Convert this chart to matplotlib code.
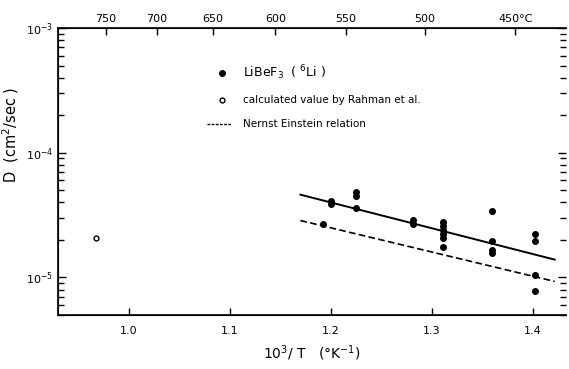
import numpy as np
import matplotlib.pyplot as plt
import matplotlib.ticker as ticker

# measured points, LiBeF3 (6Li)
x_meas = [1.192, 1.2007, 1.2007, 1.2248, 1.2248, 1.2248, 1.2815, 1.2815,
          1.311, 1.311, 1.311, 1.311, 1.311, 1.311,
          1.360, 1.360, 1.360, 1.360, 1.4023, 1.4023, 1.4023, 1.4023]
D_meas = [2.70e-5, 4.07e-5, 3.89e-5, 4.81e-5, 4.47e-5, 3.61e-5, 2.88e-5, 2.69e-5,
          2.77e-5, 2.57e-5, 2.39e-5, 2.21e-5, 2.08e-5, 1.76e-5,
          3.43e-5, 1.95e-5, 1.67e-5, 1.58e-5, 2.25e-5, 1.95e-5, 1.05e-5, 7.77e-6]

# calculated value by Rahman et al.
x_calc = [0.968]
D_calc = [2.08e-5]

# fitted line and Nernst Einstein relation
x_fit = [1.170, 1.4218]
D_fit = [4.61e-5, 1.39e-5]
x_ne = [1.170, 1.4218]
D_ne = [2.86e-5, 9.29e-6]

# top axis (Celsius)
temps_C = [750, 700, 650, 600, 550, 500, 450]
temp_labels = ['750', '700', '650', '600', '550', '500', '450°C']

plt.rcParams['font.family'] = 'DejaVu Sans'
fig = plt.figure(figsize=(5.69, 3.69), dpi=100)
ax = fig.add_axes([58/569, 1 - 315/369, (566-58)/569, (315-28)/369])

ax.plot(x_fit, D_fit, color='black', linewidth=1.4)
ax.plot(x_ne, D_ne, color='black', linewidth=1.2, linestyle=(0, (4, 2)))
ax.plot(x_meas, D_meas, 'o', color='black', markersize=4)
ax.plot(x_calc, D_calc, 'o', color='black', markerfacecolor='white', markersize=3.5, markeredgewidth=1)

ax.set_yscale('log')
ax.set_xlim(0.93, 1.433)
ax.set_ylim(5e-6, 1e-3)
ax.xaxis.set_major_locator(ticker.MultipleLocator(0.1))
ax.xaxis.set_major_formatter(ticker.FormatStrFormatter('%.1f'))
ax.yaxis.set_major_locator(ticker.LogLocator(base=10))
ax.yaxis.set_minor_locator(ticker.LogLocator(base=10, subs=np.arange(2, 10)))
ax.yaxis.set_minor_formatter(ticker.NullFormatter())
ax.tick_params(axis='both', which='both', direction='in', labelsize=8)
ax.tick_params(axis='y', which='both', right=True)
ax.tick_params(axis='y', which='major', length=6, width=1)
ax.tick_params(axis='y', which='minor', length=4, width=1)
ax.tick_params(axis='x', which='major', length=5, width=1, pad=8)
ax.spines['right'].set_visible(False)
for s in ['left', 'bottom', 'top']:
    ax.spines[s].set_linewidth(1.2)

ax.set_xlabel('$10^3$/ T   (°K$^{-1}$)', fontsize=10, labelpad=5)
ax.set_ylabel('D  (cm$^2$/sec )', fontsize=10.5)
ax.yaxis.set_label_coords(-0.072, 0.627)

top = ax.twiny()
top.set_xlim(ax.get_xlim())
top.set_xticks([1000 / (t + 273.15) for t in temps_C])
top.set_xticklabels(temp_labels)
top.tick_params(axis='x', direction='in', length=5, width=1, labelsize=8, pad=3)
top.spines['right'].set_visible(False)

# legend drawn by hand
ax.plot([0.323], [0.843], 'o', color='black', markersize=4, transform=ax.transAxes)
ax.text(0.364, 0.843, 'LiBeF$_3$  ( $^6$Li )', transform=ax.transAxes, fontsize=9, va='center')
ax.plot([0.323], [0.749], 'o', color='black', markerfacecolor='white', markersize=3.5, transform=ax.transAxes)
ax.text(0.364, 0.749, 'calculated value by Rahman et al.', transform=ax.transAxes, fontsize=7.5, va='center')
ax.plot([0.293, 0.343], [0.666, 0.666], color='black', linewidth=1, linestyle=(0, (2, 1)), transform=ax.transAxes)
ax.text(0.364, 0.666, 'Nernst Einstein relation', transform=ax.transAxes, fontsize=7.5, va='center')

fig.savefig('out.png', dpi=100)
